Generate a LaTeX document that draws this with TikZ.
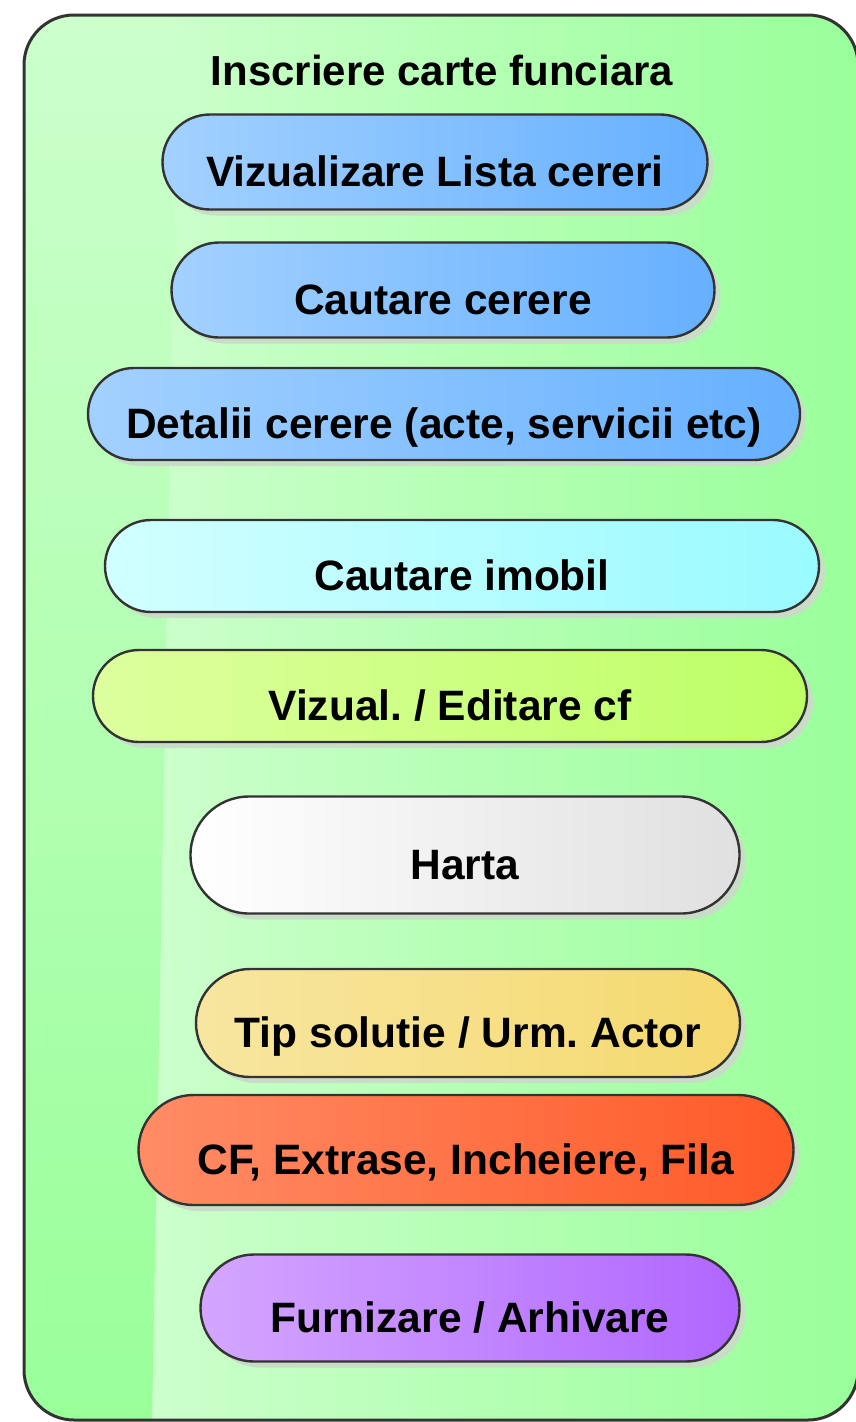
\documentclass[tikz,border=0pt]{standalone}
\usepackage{fontspec}
\setmainfont{Liberation Sans}
\usepackage{tikz}
\usetikzlibrary{shapes.misc}
\usetikzlibrary{shadows}

\definecolor{BoxLight}{HTML}{CCFFCC}
\definecolor{BoxGreen}{HTML}{99FF99}
\definecolor{ShadowGray}{HTML}{C8DCC8}
\definecolor{BlueLight}{HTML}{A3D1FF}
\definecolor{BlueDark}{HTML}{66B0FF}
\definecolor{CyanLight}{HTML}{D2FFFF}
\definecolor{CyanDark}{HTML}{99FAFF}
\definecolor{LimeLight}{HTML}{DDFF9E}
\definecolor{LimeDark}{HTML}{BDFF66}
\definecolor{GreyLight}{HTML}{FFFFFF}
\definecolor{GreyDark}{HTML}{E0E0E0}
\definecolor{SandLight}{HTML}{F7E6A0}
\definecolor{SandDark}{HTML}{F5D96E}
\definecolor{RedLight}{HTML}{FF8C66}
\definecolor{RedDark}{HTML}{FF5A28}
\definecolor{LilacLight}{HTML}{D4A6FF}
\definecolor{LilacDark}{HTML}{B066FF}

\begin{document}
\begin{tikzpicture}[x=1pt,y=-1pt]

\tikzset{use case/.style={
    rounded rectangle, draw=black!80, line width=2.4pt, inner sep=0pt,
    minimum height=#1, text height=48pt, text depth=0pt,
    font=\bfseries\frenchspacing\fontsize{42.5}{50}\selectfont,
    drop shadow={shadow xshift=6pt, shadow yshift=-6pt, fill=ShadowGray, opacity=1}
  }, use case/.default=92pt
}
\useasboundingbox (0,0) rectangle (856,1422);

\begin{scope}
\clip[rounded corners=50pt] (24,15) rectangle (858,1420);
\shade[left color=BoxLight, right color=BoxGreen] (150,15) rectangle (858,1420);
\shade[top color=BoxLight, bottom color=BoxGreen] (24,15) -- (178,15) -- (152,1420) -- (24,1420) -- cycle;
\end{scope}
\draw[rounded corners=50pt, line width=3pt, black!80] (24,15) rectangle (858,1420);

\node[font=\bfseries\fontsize{42}{50}\selectfont] (titlu) at (442,70) {Inscriere carte funciara};

\node[use case=95pt, minimum width=545pt, left color=BlueLight, right color=BlueDark] (lista) at (435,162) {Vizualizare Lista cereri};
\node[use case=95pt, minimum width=543pt, left color=BlueLight, right color=BlueDark] (cautcerere) at (443,290) {Cautare cerere};
\node[use case, minimum width=712pt, left color=BlueLight, right color=BlueDark] (detalii) at (444,414) {Detalii cerere (acte, servicii etc)};
\node[use case, minimum width=714pt, left color=CyanLight, right color=CyanDark] (imobil) at (462,566) {Cautare imobil};
\node[use case, minimum width=714pt, left color=LimeLight, right color=LimeDark] (editare) at (450,696) {Vizual. / Editare cf};
\node[use case=117pt, minimum width=549pt, left color=GreyLight, right color=GreyDark] (harta) at (465,855) {Harta};
\node[use case=108pt, minimum width=544pt, left color=SandLight, right color=SandDark] (solutie) at (468,1023) {Tip solutie / Urm. Actor};
\node[use case=110pt, minimum width=655pt, left color=RedLight, right color=RedDark] (extrase) at (466,1150) {CF, Extrase, Incheiere, Fila};
\node[use case=107pt, minimum width=539pt, left color=LilacLight, right color=LilacDark] (arhivare) at (470,1308) {Furnizare / Arhivare};
\end{tikzpicture}
\end{document}
